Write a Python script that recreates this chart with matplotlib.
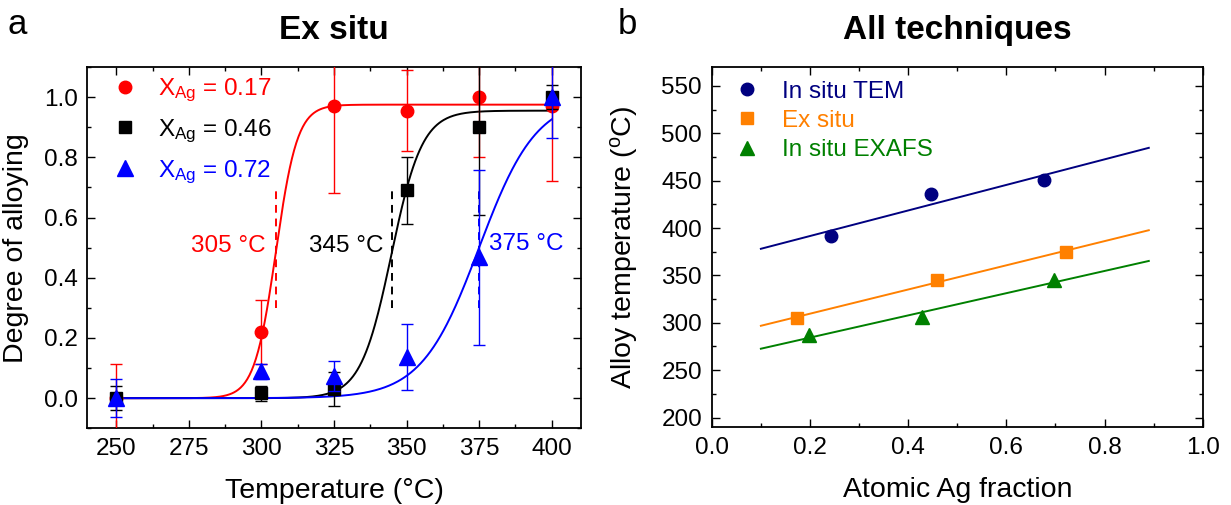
import numpy as np
import matplotlib
matplotlib.use("Agg")
import matplotlib.pyplot as plt
from matplotlib.lines import Line2D
from matplotlib.ticker import MultipleLocator

plt.rcParams['font.family'] = ['Liberation Sans', 'DejaVu Sans']
plt.rcParams['mathtext.fontset'] = 'custom'
plt.rcParams['mathtext.rm'] = 'Liberation Sans'
plt.rcParams['mathtext.it'] = 'Liberation Sans:italic'
plt.rcParams['mathtext.bf'] = 'Liberation Sans:bold'

# ---------------- Panel a data ----------------
temps = [250, 300, 325, 350, 375, 400]
alloy_017 = [0.00, 0.22, 0.97, 0.955, 1.00, 0.972]
err_017 = [0.113, 0.105, 0.29, 0.135, 0.20, 0.25]
alloy_046 = [0.00, 0.016, 0.03, 0.69, 0.90, 1.00]
err_046 = [0.04, 0.025, 0.056, 0.11, 0.29, 0.04]
alloy_072 = [0.00, 0.09, 0.075, 0.137, 0.468, 1.00]
err_072 = [0.063, 0.025, 0.05, 0.11, 0.29, 0.135]
series_labels_a = ['X$_{\\rm Ag}$ = 0.17', 'X$_{\\rm Ag}$ = 0.46', 'X$_{\\rm Ag}$ = 0.72']
colors_a = ['#FF0000', '#000000', '#0000FF']
markers_a = ['o', 's', '^']
# sigmoid fit parameters (plateau, centre, width)
fit_plateau = [0.975, 0.955, 1.00]
fit_center = [305, 344.8, 375]
fit_width = [3.7, 5.3, 9.9]
alloy_temp_labels = ['305 °C', '345 °C', '375 °C']
alloy_temps = [305, 345, 375]

# ---------------- Panel b data ----------------
tem_x = [0.242, 0.447, 0.677]
tem_y = [391.5, 435.7, 450.8]
ex_x = [0.173, 0.459, 0.722]
ex_y = [305, 345, 375]
exafs_x = [0.199, 0.429, 0.697]
exafs_y = [287, 306, 345]
labels_b = ['In situ TEM', 'Ex situ', 'In situ EXAFS']
colors_b = ['#000080', '#FF8000', '#008000']
markers_b = ['o', 's', '^']
fit_range = [0.1, 0.89]

fig = plt.figure(figsize=(12.31, 5.05), dpi=100)
ax1 = fig.add_axes([0.0709, 0.1519, 0.4008, 0.7154])
ax2 = fig.add_axes([0.5782, 0.1545, 0.3989, 0.7129])

TICK_FS = 17.5
LABEL_FS = 20.5

def style(ax):
    ax.tick_params(which='both', direction='in', top=True, right=True,
                   labelsize=TICK_FS, width=1.0)
    ax.tick_params(which='major', length=6, pad=7)
    ax.tick_params(which='minor', length=3)
    for s in ax.spines.values():
        s.set_linewidth(1.3)

# ---------- Panel a ----------
msizes = [9, 8, 11]
tfine = np.linspace(250, 400, 400)
for i in range(3):
    A, x0, w = fit_plateau[i], fit_center[i], fit_width[i]
    ax1.plot(tfine, A / (1 + np.exp(-(tfine - x0) / w)), color=colors_a[i], lw=1.4, zorder=2)
ys = [alloy_017, alloy_046, alloy_072]
es = [err_017, err_046, err_072]
for i in range(3):
    ax1.errorbar(temps, ys[i], yerr=es[i], fmt=markers_a[i], color=colors_a[i],
                 ms=msizes[i], elinewidth=1.0, capsize=4, capthick=1.0, zorder=3 + i)
for i in range(3):
    ax1.plot([alloy_temps[i], alloy_temps[i]], [0.3, 0.7], ls='--', color=colors_a[i],
             lw=1.4, dashes=(4, 3), zorder=2)
ax1.text(301.5, 0.505, alloy_temp_labels[0], color=colors_a[0], fontsize=TICK_FS, ha='right', va='center')
ax1.text(342.0, 0.505, alloy_temp_labels[1], color=colors_a[1], fontsize=TICK_FS, ha='right', va='center')
ax1.text(378.5, 0.512, alloy_temp_labels[2], color=colors_a[2], fontsize=TICK_FS, ha='left', va='center')

ax1.set_xlim(240, 410)
ax1.set_ylim(-0.1, 1.1)
ax1.set_xticks([250, 275, 300, 325, 350, 375, 400])
ax1.xaxis.set_minor_locator(MultipleLocator(12.5))
ax1.set_yticks([0.0, 0.2, 0.4, 0.6, 0.8, 1.0])
ax1.yaxis.set_minor_locator(MultipleLocator(0.1))
style(ax1)
ax1.set_xlabel('Temperature (°C)', fontsize=LABEL_FS)
ax1.set_ylabel('Degree of alloying', fontsize=LABEL_FS)
ax1.yaxis.set_label_coords(-0.118, 0.5)
ax1.xaxis.set_label_coords(0.5, -0.137)
ax1.set_title('Ex situ', fontsize=24, fontweight='bold', pad=20)

handles_a = [Line2D([], [], ls='none', marker=markers_a[i], color=colors_a[i], ms=msizes[i])
             for i in range(3)]
ax1.legend(handles_a, series_labels_a, loc='upper left', bbox_to_anchor=(0.0, 1.0),
           frameon=False, fontsize=TICK_FS, labelcolor=colors_a, handletextpad=0.2,
           labelspacing=0.55, borderaxespad=0.0, handlelength=2.3)

# ---------- Panel b ----------
xs_b = [tem_x, ex_x, exafs_x]
ys_b = [tem_y, ex_y, exafs_y]
msb = [9, 8.5, 10.5]
xf = np.array(fit_range)
for i in range(3):
    p = np.polyfit(xs_b[i], ys_b[i], 1)
    ax2.plot(xf, np.polyval(p, xf), color=colors_b[i], lw=1.4, zorder=2)
    ax2.plot(xs_b[i], ys_b[i], ls='none', marker=markers_b[i], color=colors_b[i],
             ms=msb[i], zorder=3)
ax2.set_xlim(0, 1.0)
ax2.set_ylim(190, 570)
ax2.set_xticks([0.0, 0.2, 0.4, 0.6, 0.8, 1.0])
ax2.xaxis.set_minor_locator(MultipleLocator(0.1))
ax2.set_yticks([200, 250, 300, 350, 400, 450, 500, 550])
ax2.yaxis.set_minor_locator(MultipleLocator(25))
style(ax2)
ax2.set_xlabel('Atomic Ag fraction', fontsize=LABEL_FS)
ax2.set_ylabel('Alloy temperature ($^{\\rm o}$C)', fontsize=LABEL_FS)
ax2.yaxis.set_label_coords(-0.146, 0.5)
ax2.xaxis.set_label_coords(0.5, -0.14)
ax2.set_title('All techniques', fontsize=24, fontweight='bold', pad=20)
handles_b = [Line2D([], [], ls='none', marker=markers_b[i], color=colors_b[i], ms=msb[i])
             for i in range(3)]
ax2.legend(handles_b, labels_b, loc='upper left', bbox_to_anchor=(0.0, 0.989),
           frameon=False, fontsize=TICK_FS, labelcolor=colors_b, handletextpad=0.4,
           labelspacing=0.3, borderaxespad=0.0, handlelength=2.1)

fig.text(0.006, 0.985, 'a', fontsize=25, va='top', ha='left')
fig.text(0.502, 0.985, 'b', fontsize=25, va='top', ha='left')

fig.savefig('out.png', dpi=100)
